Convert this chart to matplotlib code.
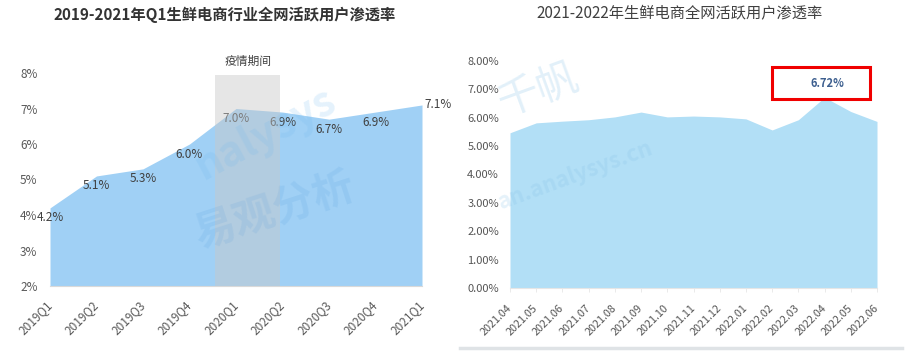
import numpy as np
import matplotlib
matplotlib.use('Agg')
import matplotlib.pyplot as plt
from matplotlib.lines import Line2D
from matplotlib.patches import Rectangle

plt.rcParams['font.family'] = ['Noto Sans CJK SC', 'DejaVu Sans']

# left chart: quarterly penetration (%)
quarters = ['2019Q1', '2019Q2', '2019Q3', '2019Q4', '2020Q1', '2020Q2', '2020Q3', '2020Q4', '2021Q1']
rate_q = [4.2, 5.1, 5.3, 6.0, 7.0, 6.9, 6.7, 6.9, 7.1]
left_yticks = [2, 3, 4, 5, 6, 7, 8]
left_title = '2019-2021年Q1生鲜电商行业全网活跃用户渗透率'
band_label = '疫情期间'

# right chart: monthly penetration (%)
months = ['2021.04', '2021.05', '2021.06', '2021.07', '2021.08', '2021.09', '2021.10', '2021.11',
          '2021.12', '2022.01', '2022.02', '2022.03', '2022.04', '2022.05', '2022.06']
rate_m = [5.47, 5.82, 5.88, 5.93, 6.03, 6.2, 6.03, 6.06, 6.03, 5.96, 5.57, 5.93, 6.72, 6.22, 5.87]
right_yticks = [0, 1, 2, 3, 4, 5, 6, 7, 8]
right_title = '2021-2022年生鲜电商全网活跃用户渗透率'
peak_label = '6.72%'

W, H = 914, 351
fig = plt.figure(figsize=(W / 100, H / 100), dpi=100)
fig.patch.set_facecolor('white')

# ---------------- left chart ----------------
ax1 = fig.add_axes([50 / W, 1 - 286 / H, 372 / W, 213 / H])
x1 = np.arange(len(quarters))
ax1.fill_between(x1, 2, rate_q, color='#a0d0f5', lw=0, zorder=2)
ax1.axvspan(3.55, 4.95, ymax=0.99, color='#c8c8c8', alpha=0.45, lw=0, zorder=4)
ax1.text(4.25, 8.32, band_label, ha='center', va='center', fontsize=8.5, color='#404040')

for i, v in enumerate(rate_q):
    if i == len(rate_q) - 1:
        off, ha = (2, 0), 'left'
    else:
        off, ha = (0, -10), 'center'
    ax1.annotate(f'{v}%', (i, v), xytext=off, textcoords='offset pixels',
                 ha=ha, va='center', fontsize=8.5, color='#404040', zorder=3)

ax1.set_xlim(0, len(quarters) - 1)
ax1.set_ylim(2, 8)
ax1.set_yticks(left_yticks)
ax1.set_yticklabels([f'{v}%' for v in left_yticks])
ax1.set_xticks(x1)
ax1.set_xticklabels(quarters, rotation=45, rotation_mode='anchor', ha='right', va='center')
ax1.tick_params(axis='y', length=0, pad=9, labelsize=8.5, labelcolor='#595959')
ax1.tick_params(axis='x', length=0, pad=12, labelsize=8.5, labelcolor='#595959')
for s in ['top', 'right', 'left']:
    ax1.spines[s].set_visible(False)
ax1.spines['bottom'].set_color('#d9d9d9')
ax1.set_facecolor('none')

fig.text(225 / W, 1 - 15 / H, left_title, ha='center', va='center',
         fontsize=11, fontweight='bold', color='#333333')

# faint watermarks
fig.text(0.30, 0.40, '易观分析', ha='center', va='center', fontsize=30, fontweight='bold',
         rotation=18, color='#2f86d6', alpha=0.10)
fig.text(0.29, 0.62, 'nalysys', ha='center', va='center', fontsize=30, fontweight='bold',
         rotation=28, color='#6fb8ef', alpha=0.18)

# ---------------- right chart ----------------
ax2 = fig.add_axes([510 / W, 1 - 288 / H, 367 / W, 227 / H])
x2 = np.arange(len(months))
ax2.fill_between(x2, 0, rate_m, color='#b2dff6', lw=0, zorder=2)
ax2.set_xlim(0, len(months) - 1)
ax2.set_ylim(0, 8)
ax2.set_yticks(right_yticks)
ax2.set_yticklabels([f'{v:.2f}%' for v in right_yticks])
ax2.set_xticks(x2)
ax2.set_xticklabels(months, rotation=45, rotation_mode='anchor', ha='right', va='center')
ax2.tick_params(axis='y', length=0, pad=8, labelsize=8, labelcolor='#555555')
ax2.tick_params(axis='x', length=3, width=0.6, color='#e6e6e6', pad=10, labelsize=7.8,
                labelcolor='#555555')
for s in ['top', 'right', 'left']:
    ax2.spines[s].set_visible(False)
ax2.spines['bottom'].set_color('#e6e6e6')
ax2.set_facecolor('none')

pk = int(np.argmax(rate_m))
ax2.annotate(peak_label, (pk, rate_m[pk]), xytext=(3, 14), textcoords='offset pixels',
             ha='center', va='center', fontsize=8, fontweight='bold', color='#3d5f8f')
ax2.add_patch(Rectangle((pk - 2.0, rate_m[pk] - 0.05), 3.74, 1.12, fill=False,
                        ec='#f00000', lw=2.2, clip_on=False, zorder=5))

fig.text(680 / W, 1 - 13 / H, right_title, ha='center', va='center',
         fontsize=11, color='#404040')

fig.text(0.59, 0.74, '千帆', ha='center', va='center', fontsize=30,
         rotation=20, color='#8cc4e8', alpha=0.25)
fig.text(0.63, 0.50, 'an.analysys.cn', ha='center', va='center', fontsize=16, fontweight='bold',
         rotation=20, color='#7fbde6', alpha=0.2)

fig.add_artist(Line2D([460 / W, 902 / W], [1 - 348 / H] * 2, color='#dfe3e6', lw=2.5))

fig.savefig('out.png', dpi=100)
